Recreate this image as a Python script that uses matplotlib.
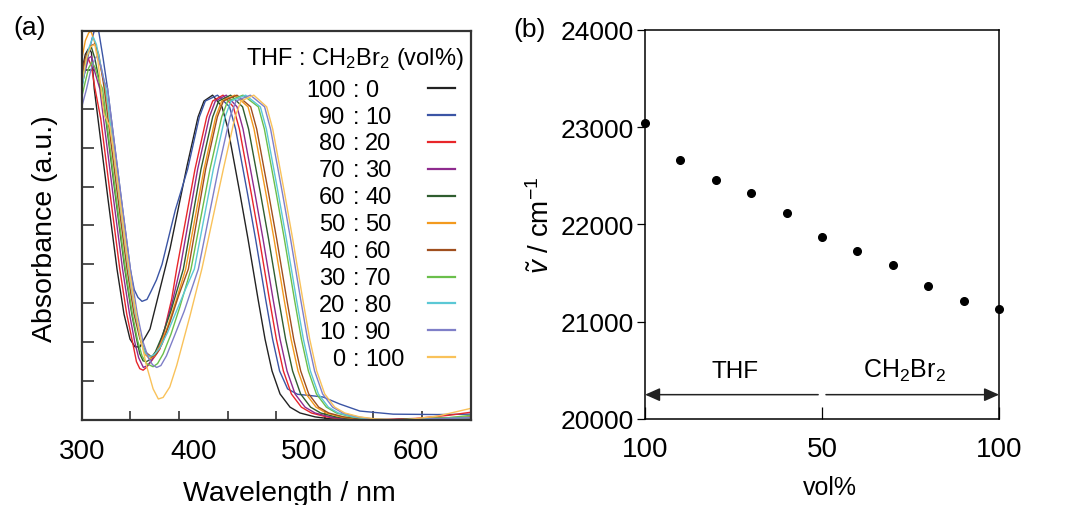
import matplotlib
matplotlib.use('Agg')
import matplotlib.pyplot as plt

plt.rcParams['font.family'] = ['Liberation Sans', 'DejaVu Sans']
plt.rcParams['mathtext.fontset'] = 'custom'
plt.rcParams['mathtext.rm'] = 'Liberation Sans'
plt.rcParams['mathtext.it'] = 'Liberation Sans:italic'

# ---- (a) absorption spectra, THF : CH2Br2 mixtures ----
labels_left = ['100', '90', '80', '70', '60', '50', '40', '30', '20', '10', '0']
labels_right = ['0', '10', '20', '30', '40', '50', '60', '70', '80', '90', '100']
colors = ['#222222', '#3b55a5', '#e8262a', '#8e2b8e', '#2f5d2f', '#f39a1e',
          '#a04f1e', '#6abf4b', '#5bc8d5', '#7f7fc8', '#f9c25a']

wl_100_0 = [300, 303, 306, 308.5, 311, 314.4, 323.4, 331.5, 337.8, 343.2, 347.7, 352.2, 354.9, 358, 361.2,
            370.2, 379.2, 394.5, 404.4, 409.8, 417.5, 426, 431.4, 442.2, 449.4, 458.4, 464.7, 471, 478.2,
            487.2, 496.2, 509.7, 523.2, 550, 600, 650]
ab_100_0 = [0.90, 0.94, 0.955, 0.945, 0.852, 0.774, 0.568, 0.388, 0.272, 0.208, 0.188, 0.188, 0.203, 0.218, 0.234,
            0.337, 0.44, 0.653, 0.779, 0.82, 0.835, 0.805, 0.748, 0.581, 0.465, 0.311, 0.208, 0.126, 0.067,
            0.033, 0.018, 0.008, 0.003, 0.0, 0.002, 0.005]

wl_90_10 = [300, 305, 309, 312, 315, 319, 323, 326.4, 335.4, 343.5, 347, 350.4, 354, 358.5, 362, 367, 372, 378,
            384, 395.1, 405.6, 411, 421.9, 432.8, 438.2, 449, 456.2, 465.2, 471.5, 477.8, 485, 494, 505, 517,
            532, 550, 580, 620, 650]
ab_90_10 = [0.86, 0.93, 0.98, 1.01, 1.0, 0.93, 0.852, 0.774, 0.568, 0.388, 0.335, 0.315, 0.305, 0.31, 0.33, 0.36,
            0.40, 0.47, 0.54, 0.645, 0.779, 0.82, 0.835, 0.805, 0.748, 0.581, 0.465, 0.311, 0.208, 0.126, 0.08,
            0.066, 0.063, 0.059, 0.041, 0.023, 0.015, 0.014, 0.015]

wl_80_20 = [300, 303, 305.5, 308.5, 311.5, 316.9, 325.9, 334, 340.3, 345.5, 349, 352, 355, 358, 362, 366, 370.2,
            380.7, 385.2, 401.7, 412.2, 417.6, 426.9, 436.2, 441.6, 452.4, 459.6, 468.6, 474.9, 481.2, 488.4,
            497.4, 506.4, 519.9, 533.4, 560, 600, 630, 650]
ab_80_20 = [0.885, 0.92, 0.93, 0.91, 0.855, 0.774, 0.568, 0.388, 0.272, 0.2, 0.15, 0.132, 0.128, 0.135, 0.15,
            0.165, 0.183, 0.311, 0.388, 0.645, 0.779, 0.82, 0.835, 0.805, 0.748, 0.581, 0.465, 0.311, 0.208,
            0.126, 0.067, 0.033, 0.018, 0.008, 0.003, 0.0, 0.004, 0.012, 0.02]

wl_70_30 = [300, 303, 306, 308.5, 311, 316, 319.4, 328.4, 336.5, 342.8, 347.5, 351, 355.2, 359, 363, 368, 374,
            381, 388.2, 404.1, 414.6, 420, 429.8, 439.5, 444.9, 455.7, 462.9, 471.9, 478.2, 484.5, 491.7,
            500.7, 509.7, 523.2, 536.7, 565, 650]
ab_70_30 = [0.86, 0.9, 0.93, 0.935, 0.9, 0.852, 0.774, 0.568, 0.388, 0.272, 0.2, 0.16, 0.135, 0.14, 0.155, 0.18,
            0.23, 0.3, 0.388, 0.645, 0.779, 0.82, 0.835, 0.805, 0.748, 0.581, 0.465, 0.311, 0.208, 0.126, 0.067,
            0.033, 0.018, 0.008, 0.003, 0.0, 0.006]

wl_60_40 = [300, 303, 306, 308.5, 311.5, 315, 318, 321.4, 330.4, 338.5, 344.8, 349, 352, 355, 358, 361, 366, 372,
            380, 391.2, 407.1, 417.6, 423, 433.7, 444.5, 449.9, 460.7, 467.9, 476.9, 483.2, 489.5, 496.7,
            505.7, 514.7, 528.2, 541.7, 570, 650]
ab_60_40 = [0.87, 0.92, 0.95, 0.958, 0.93, 0.88, 0.83, 0.774, 0.568, 0.388, 0.272, 0.21, 0.17, 0.152, 0.15,
            0.155, 0.175, 0.215, 0.28, 0.388, 0.645, 0.779, 0.82, 0.835, 0.805, 0.748, 0.581, 0.465, 0.311,
            0.208, 0.126, 0.067, 0.033, 0.018, 0.008, 0.003, 0.0, 0.006]

wl_50_50 = [300, 303, 306, 308, 311, 315, 318, 321, 324.9, 333.9, 342, 348.3, 353, 357, 361.2, 365, 370, 377,
            385, 393.3, 409.8, 420.3, 425.7, 437.5, 449.4, 454.8, 465.6, 472.8, 481.8, 488.1, 494.4, 501.6,
            510.6, 519.6, 533.1, 546.6, 575, 650]
ab_50_50 = [0.93, 0.975, 0.995, 1.0, 0.975, 0.93, 0.89, 0.852, 0.774, 0.568, 0.388, 0.272, 0.2, 0.168, 0.157,
            0.165, 0.19, 0.24, 0.31, 0.388, 0.645, 0.779, 0.82, 0.835, 0.805, 0.748, 0.581, 0.465, 0.311,
            0.208, 0.126, 0.067, 0.033, 0.018, 0.008, 0.003, 0.0, 0.006]

wl_40_60 = [300, 304, 308, 311.7, 315, 318, 320, 323.4, 332.4, 340.5, 346.8, 352, 357, 362.7, 367, 372, 379, 387,
            395.7, 411.3, 421.8, 427.2, 439.5, 451.8, 457.2, 468, 475.2, 484.2, 490.5, 496.8, 504, 513, 522,
            535.5, 549, 575, 650]
ab_40_60 = [0.9, 0.94, 0.962, 0.967, 0.94, 0.89, 0.852, 0.774, 0.568, 0.388, 0.272, 0.21, 0.175, 0.162, 0.17,
            0.195, 0.25, 0.32, 0.388, 0.645, 0.779, 0.82, 0.835, 0.805, 0.748, 0.581, 0.465, 0.311, 0.208,
            0.126, 0.067, 0.033, 0.018, 0.008, 0.003, 0.0, 0.008]

wl_30_70 = [300, 303, 306, 309, 312, 315.5, 318.5, 321.9, 330.9, 339, 345.3, 350, 354, 358, 364, 368, 373, 380,
            388, 398.1, 415.2, 425.7, 431.1, 444.9, 458.7, 464.1, 474.9, 482.1, 491.1, 497.4, 503.7, 510.9,
            519.9, 528.9, 542.4, 555.9, 580, 630, 650]
ab_30_70 = [0.833, 0.87, 0.905, 0.92, 0.905, 0.87, 0.852, 0.774, 0.568, 0.388, 0.272, 0.205, 0.165, 0.145,
            0.137, 0.145, 0.17, 0.22, 0.29, 0.388, 0.645, 0.779, 0.82, 0.835, 0.805, 0.748, 0.581, 0.465, 0.311,
            0.208, 0.126, 0.067, 0.033, 0.018, 0.008, 0.003, 0.0, 0.006, 0.012]

wl_20_80 = [300, 303, 306, 310, 313, 317, 321.5, 324.9, 333.9, 342, 348.3, 353, 357, 361, 365, 370, 377, 385,
            393, 401.1, 418.2, 428.7, 434.1, 447.3, 460.5, 465.9, 476.7, 483.9, 492.9, 499.2, 505.5, 512.7,
            521.7, 530.7, 544.2, 557.7, 580, 650]
ab_20_80 = [0.85, 0.91, 0.955, 0.985, 0.965, 0.91, 0.852, 0.774, 0.568, 0.388, 0.272, 0.205, 0.172, 0.163,
            0.168, 0.185, 0.225, 0.28, 0.335, 0.388, 0.645, 0.779, 0.82, 0.835, 0.805, 0.748, 0.581, 0.465,
            0.311, 0.208, 0.126, 0.067, 0.033, 0.018, 0.008, 0.003, 0.0, 0.006]

wl_10_90 = [300, 304, 308, 311, 313.5, 317, 320, 323, 326.4, 335.4, 343.5, 349.8, 355, 360, 363.5, 367.2, 371,
            376, 383, 392, 404.7, 422.7, 433.2, 438.6, 451.5, 464.3, 469.7, 480.5, 487.7, 496.7, 503, 509.3,
            516.5, 525.5, 534.5, 548, 561.5, 585, 650]
ab_10_90 = [0.807, 0.85, 0.9, 0.925, 0.936, 0.91, 0.87, 0.852, 0.774, 0.568, 0.388, 0.272, 0.2, 0.158, 0.142,
            0.135, 0.14, 0.165, 0.215, 0.28, 0.388, 0.645, 0.779, 0.82, 0.835, 0.805, 0.748, 0.581, 0.465,
            0.311, 0.208, 0.126, 0.067, 0.033, 0.018, 0.008, 0.003, 0.0, 0.006]

wl_0_100 = [300, 304, 308, 311.5, 314.5, 317.5, 320, 322.5, 325, 328, 334, 340.2, 346, 352.2, 358, 364, 368.7,
            373, 379, 385.2, 397.2, 408, 427.2, 437.7, 443.1, 454.6, 466.2, 471.6, 482.4, 489.6, 498.6, 504.9,
            511.2, 518.4, 527.4, 536.4, 549.9, 563.4, 590, 620, 650]
ab_0_100 = [0.87, 0.93, 0.96, 0.965, 0.92, 0.84, 0.785, 0.77, 0.755, 0.7, 0.57, 0.431, 0.32, 0.217, 0.14, 0.08,
            0.054, 0.058, 0.085, 0.14, 0.268, 0.39, 0.645, 0.779, 0.82, 0.835, 0.805, 0.748, 0.581, 0.465,
            0.311, 0.208, 0.126, 0.067, 0.033, 0.018, 0.008, 0.003, 0.0, 0.01, 0.03]

spectra = [(wl_100_0, ab_100_0), (wl_90_10, ab_90_10), (wl_80_20, ab_80_20), (wl_70_30, ab_70_30),
           (wl_60_40, ab_60_40), (wl_50_50, ab_50_50), (wl_40_60, ab_40_60), (wl_30_70, ab_30_70),
           (wl_20_80, ab_20_80), (wl_10_90, ab_10_90), (wl_0_100, ab_0_100)]

# ---- (b) peak wavenumber vs solvent composition ----
ch2br2_vol = [0, 10, 20, 30, 40, 50, 60, 70, 80, 90, 100]
wavenumber = [23038, 22664, 22459, 22318, 22113, 21873, 21729, 21586, 21363, 21216, 21134]

fig = plt.figure(figsize=(10.76, 5.06), dpi=100)
ax1 = fig.add_axes([0.0762, 0.168, 0.3615, 0.7688])
ax2 = fig.add_axes([0.5995, 0.17, 0.329, 0.769])

for (wl, ab), c in zip(spectra, colors):
    ax1.plot(wl, ab, color=c, lw=1.0)

ax1.set_xlim(300, 650)
ax1.set_ylim(0, 1)
ax1.set_xticks([300, 400, 500, 600])
ax1.set_xticks([343.6, 387.3, 431.0, 474.6, 518.3, 562.0, 605.6], minor=True)
ax1.set_yticks([0.1, 0.2, 0.3, 0.4, 0.5, 0.6, 0.7, 0.8, 0.9])
ax1.set_yticklabels([])
ax1.tick_params(axis='x', which='major', length=0, pad=13, labelsize=20)
ax1.tick_params(axis='x', which='minor', direction='in', length=6.5, width=1.2, color='#333333')
ax1.tick_params(axis='y', direction='in', length=8.5, width=1.2, color='#333333')
for s in ax1.spines.values():
    s.set_linewidth(1.6)
    s.set_color('#333333')
ax1.set_xlabel('Wavelength / nm', fontsize=20.5)
ax1.xaxis.set_label_coords(0.532, -0.155)
ax1.xaxis.label.set_va('top')
ax1.set_ylabel('Absorbance (a.u.)', fontsize=20.5)
ax1.yaxis.set_label_coords(-0.062, 0.495)

# hand-made legend
ax1.text(0.702, 0.9152, 'THF : CH$_2$Br$_2$ (vol%)', transform=ax1.transAxes,
         ha='center', va='baseline', fontsize=17)
for i, (a, b, c) in enumerate(zip(labels_left, labels_right, colors)):
    yb = (421 - (96.7 + 26.9 * i)) / 389
    ax1.text(0.677, yb, a, transform=ax1.transAxes, ha='right', va='baseline', fontsize=17)
    ax1.text(0.704, yb, ':', transform=ax1.transAxes, ha='center', va='baseline', fontsize=17)
    ax1.text(0.728, yb, b, transform=ax1.transAxes, ha='left', va='baseline', fontsize=17)
    yl = yb + 7.4 / 389
    ax1.plot([0.889, 0.959], [yl, yl], transform=ax1.transAxes, color=c, lw=1.6)

fig.text(0.012, 0.945, '(a)', fontsize=19, va='center')
fig.text(0.477, 0.94, '(b)', fontsize=19, va='center')

ax2.plot(ch2br2_vol, wavenumber, 'o', color='black', ms=5.5, clip_on=False, zorder=5)
ax2.set_xlim(0, 100)
ax2.set_ylim(20000, 24000)
ax2.set_xticks([0, 50, 100])
ax2.set_xticklabels(['100', '50', '100'])
ax2.set_yticks([20000, 21000, 22000, 23000, 24000])
ax2.tick_params(axis='x', direction='in', length=8.5, width=0.9, pad=12, labelsize=20)
ax2.tick_params(axis='y', direction='out', length=6, width=0.9, pad=2, labelsize=19)
for s in ax2.spines.values():
    s.set_linewidth(1.1)
ax2.set_xlabel('vol%', fontsize=18)
ax2.xaxis.set_label_coords(0.523, -0.145)
ax2.xaxis.label.set_va('top')
ax2.set_ylabel(r'$\tilde{v}$ / cm$^{-1}$', fontsize=20)
ax2.yaxis.set_label_coords(-0.254, 0.5)

arrow_y = 20250
ap = dict(arrowstyle='-|>,head_length=0.45,head_width=0.2', color='#222222', lw=1.1,
          shrinkA=0, shrinkB=0, mutation_scale=20)
ax2.annotate('', xy=(0, arrow_y), xytext=(48.9, arrow_y), arrowprops=ap, annotation_clip=False)
ax2.annotate('', xy=(100, arrow_y), xytext=(51.1, arrow_y), arrowprops=ap, annotation_clip=False)
ax2.text(25.4, 20430, 'THF', ha='center', va='baseline', fontsize=17.5)
ax2.text(73.3, 20430, 'CH$_2$Br$_2$', ha='center', va='baseline', fontsize=18)

fig.savefig('out.png', dpi=100)
